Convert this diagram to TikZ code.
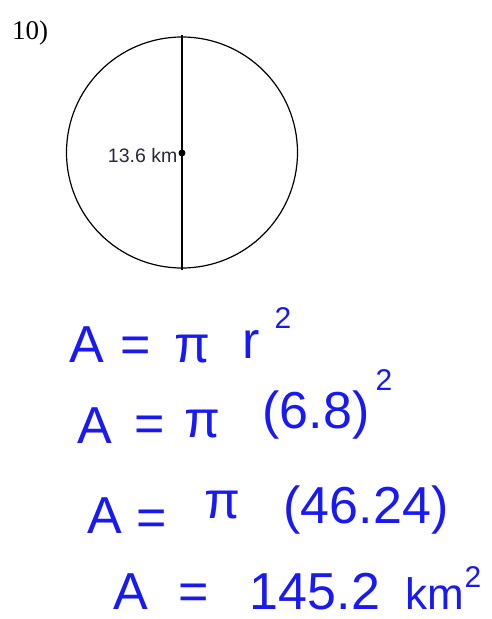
\documentclass[tikz,border=0pt]{standalone}
\usepackage{fontspec}
\setmainfont{Liberation Sans}
\newfontfamily\serifnum{Liberation Serif}
\definecolor{ink}{RGB}{25,25,245}
\definecolor{lbl}{RGB}{40,40,60}
\tikzset{
  hw/.style={text=ink, inner sep=0pt, anchor=base, font=\fontsize{52}{58}\selectfont},
  hwsup/.style={text=ink, inner sep=0pt, anchor=base, font=\fontsize{30}{34}\selectfont},
}
\begin{document}
\begin{tikzpicture}[x=1pt,y=-1pt]
\useasboundingbox[fill=white] (0,0) rectangle (491,619);
% problem number
\node[inner sep=0pt, anchor=base west, font=\serifnum\fontsize{27}{30}\selectfont] (num) at (12,39) {10)};
% circle with diameter
\node[draw, circle, line width=1.2pt, minimum size=231pt, inner sep=0pt] (circ) at (182,152.5) {};
\coordinate (top) at (182,35);
\coordinate (bot) at (182,270);
\draw[line width=1.5pt] (top) -- (bot);
\node[fill=black, circle, inner sep=0pt, minimum size=7pt] (ctr) at (182,153) {};
\node[inner sep=0pt, anchor=base east, text=lbl, font=\fontsize{19.5}{22}\selectfont] (lab) at (177.5,162) {13.6 km};
% line 1
\node[hw] (a1) at (87,362) {A};
\node[hw] (e1) at (136,362) {=};
\node[hw] (p1) at (192,362) {π};
\node[hw] (r1) at (251,358) {r};
\node[hwsup] (s1) at (283,328) {2};
% line 2
\node[hw] (a2) at (95,443) {A};
\node[hw] (e2) at (150,441) {=};
\node[hw] (p2) at (202,437) {π};
\node[hw] (v2) at (316,428) {(6.8)};
\node[hwsup] (s2) at (384,390) {2};
% line 3
\node[hw] (a3) at (105,533) {A};
\node[hw] (e3) at (152,535) {=};
\node[hw] (p3) at (222,518) {π};
\node[hw] (v3) at (366,523) {(46.24)};
% line 4
\node[hw] (a4) at (131,609) {A};
\node[hw] (e4) at (194,609) {=};
\node[hw] (v4) at (315,609) {145.2};
\node[hw, font=\fontsize{44}{50}\selectfont] (k4) at (435,609) {km};
\node[hwsup] (s4) at (473,587) {2};
\end{tikzpicture}
\end{document}
